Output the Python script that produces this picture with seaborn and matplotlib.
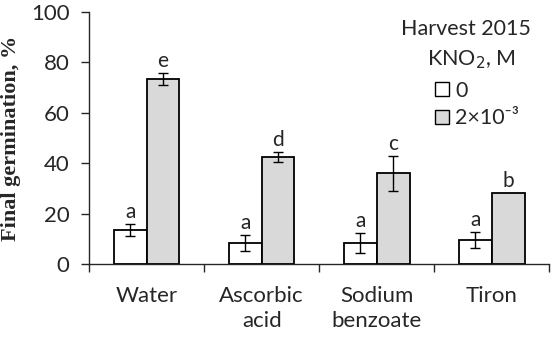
import pandas as pd
import numpy as np
import matplotlib.pyplot as plt
from matplotlib.patches import Patch
import seaborn as sns

# values
treatments = ['Water', 'Ascorbic\nacid', 'Sodium\nbenzoate', 'Tiron']
kno2_levels = ['0', '2×10⁻³']
germ_0 = [13.5, 8.2, 8.2, 9.4]
germ_kno2 = [73.4, 42.6, 36.0, 28.0]
err_0 = [2.3, 3.2, 4.0, 3.2]
err_kno2 = [2.4, 2.0, 7.0, 0.0]
letters_0 = ['a', 'a', 'a', 'a']
letters_kno2 = ['e', 'd', 'c', 'b']

df = pd.DataFrame({
    'treatment': treatments * 2,
    'kno2': [kno2_levels[0]] * 4 + [kno2_levels[1]] * 4,
    'germ': germ_0 + germ_kno2,
    'err': err_0 + err_kno2,
    'letter': letters_0 + letters_kno2,
})

sns.set_style('ticks')
plt.rcParams['font.family'] = ['Lato', 'DejaVu Sans']
plt.rcParams['font.size'] = 15

fig = plt.figure(figsize=(5.51, 3.38), dpi=100)
ax = fig.add_axes([89/551, 1 - 264/338, 1 - 89/551 - 0.003, (264 - 12)/338])

colors = {'0': 'white', '2×10⁻³': '#d9d9d9'}
sns.barplot(data=df, x='treatment', y='germ', hue='kno2', palette=colors,
            edgecolor='black', linewidth=1.3, width=0.57, gap=0,
            errorbar=None, legend=False, ax=ax)

# error bars and significance letters on top of each bar
bars = [p for p in ax.patches if p.get_height() > 0]
for p, (_, row) in zip(bars, df.iterrows()):
    xc = p.get_x() + p.get_width() / 2
    if row['err'] > 0:
        ax.errorbar(xc, row['germ'], yerr=row['err'], fmt='none',
                    ecolor='black', elinewidth=1, capsize=3.6, capthick=1)
    ax.annotate(row['letter'], (xc, row['germ'] + row['err']),
                xytext=(0, 1.5), textcoords='offset points',
                ha='center', va='bottom', fontsize=15)

ax.set_ylim(0, 100)
ax.set_xlim(-0.5, 3.5)
ax.set_yticks([0, 20, 40, 60, 80, 100])
ax.set_xticks(np.arange(-0.5, 4, 1), minor=True)
ax.tick_params(axis='x', which='major', length=0, pad=16, labelsize=16)
ax.tick_params(axis='x', which='minor', length=6, width=1, direction='out')
ax.tick_params(axis='y', length=6, width=1, pad=8, labelsize=16)
for lab in ax.get_xticklabels():
    lab.set_linespacing(1.3)
ax.set_xlabel('')
ax.set_ylabel('Final germination, %', family='Liberation Serif',
              fontweight='bold', fontsize=16, labelpad=7)
for s in ['top', 'right']:
    ax.spines[s].set_visible(False)
ax.spines['left'].set_linewidth(1)
ax.spines['bottom'].set_linewidth(1)

# legend header and entries
fig.text(466/551, 1 - 29/338, 'Harvest 2015', ha='center', va='center', fontsize=15.5)
fig.text(471/551, 1 - 60/338, 'KNO$_2$, M', ha='center', va='center', fontsize=15.5)
handles = [Patch(facecolor=colors[k], edgecolor='black', linewidth=1) for k in kno2_levels]
fig.legend(handles, kno2_levels, loc='upper left',
           bbox_to_anchor=(424/551, 1 - 70/338), frameon=False,
           handlelength=0.65, handleheight=0.65, handletextpad=0.3,
           labelspacing=0.35, borderpad=0, fontsize=15.5)

fig.savefig('out.png', dpi=100)
